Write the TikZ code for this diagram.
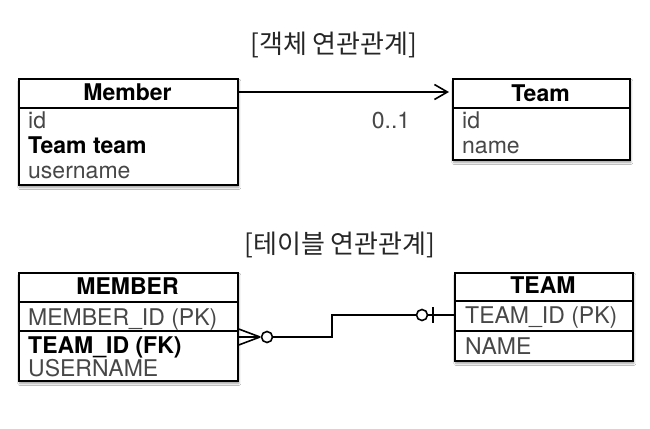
\documentclass[tikz,border=0pt]{standalone}
\usepackage{fontspec}
\setmainfont{TeX Gyre Heros}
\newfontfamily\kr{Noto Sans CJK KR}
\usetikzlibrary{shadows.blur,arrows.meta}
\begin{document}
\begin{tikzpicture}[x=1pt,y=-1pt,
  tbl/.style={draw=black, line width=1.7pt, fill=white, inner sep=0pt, anchor=north west,
    blur shadow={shadow xshift=1pt, shadow yshift=-2.5pt, shadow blur steps=6, shadow opacity=40}},
  divider/.style={draw=black, line width=1.4pt},
  hdr/.style={anchor=base, inner sep=0pt, font=\fontsize{23}{27}\selectfont\bfseries},
  row/.style={anchor=base west, inner sep=0pt, font=\fontsize{23}{27}\selectfont, text=black!72},
  brow/.style={anchor=base west, inner sep=0pt, font=\fontsize{23}{27}\selectfont\bfseries},
  ttl/.style={inner sep=0pt, font=\kr\fontsize{26}{30}\selectfont, text=black!85},
  conn/.style={draw=black, line width=1.6pt},
  ring/.style={draw=black, line width=1.6pt, fill=white, circle, minimum size=11pt, inner sep=0pt}
]
\useasboundingbox[fill=white] (0,0) rectangle (650,428);

% titles
\node[ttl] (t1) at (334,45) {[객체 연관관계]};
\node[ttl] (t2) at (340,245) {[테이블 연관관계]};

% ---- object model ----
\node[tbl, minimum width=219pt, minimum height=106pt] (member) at (18,78) {};
\draw[divider] (18,108) -- (237,108);
\node[hdr] (memberh) at (127.5,100) {Member};
\node[row] (m1) at (28,128) {id};
\node[brow] (m2) at (28,153) {Team team};
\node[row] (m3) at (28,178) {username};

\node[tbl, minimum width=177pt, minimum height=81pt] (team) at (452,78) {};
\draw[divider] (452,108) -- (629,108);
\node[hdr] (teamh) at (540.5,101) {Team};
\node[row] (tm1) at (462,128) {id};
\node[row] (tm2) at (462,153) {name};

\draw[conn, -{Straight Barb[length=13pt,width=15pt,line width=1.6pt]}, shorten >=3pt]
  (member.east |- 0,92) -- (team.west |- 0,92);
\node[row, anchor=base] (mult) at (391,128) {0..1};

% ---- table model ----
\node[tbl, minimum width=219pt, minimum height=108pt] (MEMBER) at (18,272) {};
\draw[divider] (18,302) -- (237,302);
\draw[divider] (18,331) -- (237,331);
\node[hdr] (MEMBERh) at (127.5,294) {MEMBER};
\node[row] (M1) at (28,325) {MEMBER\_ID (PK)};
\node[brow] (M2) at (28,353) {TEAM\_ID (FK)};
\node[row] (M3) at (28,376) {USERNAME};

\node[tbl, minimum width=178pt, minimum height=88pt] (TEAM) at (454,272) {};
\draw[divider] (454,301) -- (632,301);
\draw[divider] (454,331) -- (632,331);
\node[hdr] (TEAMh) at (543,293) {TEAM};
\node[row] (T1) at (465,323) {TEAM\_ID (PK)};
\node[row] (T2) at (465,354) {NAME};

% crow's foot connector
\coordinate (fk) at (MEMBER.east |- 0,337);
\coordinate (pk) at (TEAM.west |- 0,315);
\coordinate (tip) at (260,337);
\node[ring] (r1) at (267,337) {};
\node[ring] (r2) at (422,315) {};
\draw[conn] (fk) ++(0,-8) -- (tip);
\draw[conn] (fk) ++(0,8) -- (tip);
\draw[conn] (fk) -- (tip);
\draw[conn] (r1.east) -- (332,337) -- (332,315) -- (r2.west);
\draw[conn] (r2.east) -- (pk);
\draw[conn] (433,307) -- (433,323);
\end{tikzpicture}
\end{document}
